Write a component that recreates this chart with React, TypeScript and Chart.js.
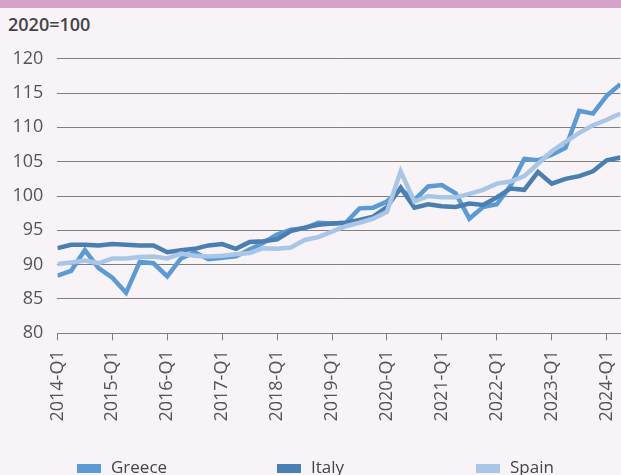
import React, { useEffect, useRef } from "react";
import { Chart, registerables } from "chart.js";

Chart.register(...registerables);

const CATEGORIES: string[] = [
  "2014-Q1", "2014-Q2", "2014-Q3", "2014-Q4",
  "2015-Q1", "2015-Q2", "2015-Q3", "2015-Q4",
  "2016-Q1", "2016-Q2", "2016-Q3", "2016-Q4",
  "2017-Q1", "2017-Q2", "2017-Q3", "2017-Q4",
  "2018-Q1", "2018-Q2", "2018-Q3", "2018-Q4",
  "2019-Q1", "2019-Q2", "2019-Q3", "2019-Q4",
  "2020-Q1", "2020-Q2", "2020-Q3", "2020-Q4",
  "2021-Q1", "2021-Q2", "2021-Q3", "2021-Q4",
  "2022-Q1", "2022-Q2", "2022-Q3", "2022-Q4",
  "2023-Q1", "2023-Q2", "2023-Q3", "2023-Q4",
  "2024-Q1", "2024-Q2",
];

const GREECE: number[] = [
  88.4, 89.1, 92.1, 89.5, 88.1, 85.9, 90.4, 90.2,
  88.3, 90.9, 91.8, 90.8, 91.0, 91.2, 92.2, 93.2,
  94.4, 95.1, 95.3, 96.1, 96.0, 96.1, 98.2, 98.3,
  99.2, 101.0, 99.4, 101.4, 101.6, 100.4, 96.7, 98.4,
  98.8, 101.5, 105.4, 105.2, 106.0, 107.0, 112.4, 112.0,
  114.6, 116.3,
];

const ITALY: number[] = [
  92.4, 92.9, 92.9, 92.8, 93.0, 92.9, 92.8, 92.8,
  91.8, 92.1, 92.3, 92.8, 93.0, 92.3, 93.3, 93.4,
  93.7, 94.9, 95.4, 95.8, 96.0, 96.1, 96.5, 97.0,
  98.4, 101.2, 98.3, 98.8, 98.5, 98.4, 98.9, 98.7,
  99.8, 101.1, 100.9, 103.5, 101.8, 102.5, 102.9, 103.6,
  105.2, 105.6,
];

const SPAIN: number[] = [
  90.1, 90.3, 90.6, 90.2, 90.9, 90.9, 91.1, 91.2,
  90.9, 91.6, 91.3, 91.2, 91.3, 91.5, 91.7, 92.4,
  92.3, 92.5, 93.6, 94.0, 94.8, 95.6, 96.1, 96.7,
  97.7, 103.6, 99.2, 100.0, 99.8, 99.8, 100.3, 100.9,
  101.8, 102.1, 102.9, 104.7, 106.5, 107.9, 109.2, 110.3,
  111.1, 112.0,
];

const SERIES_NAMES = ["Greece", "Italy", "Spain"];
const SERIES_COLORS = ["#5b9bd5", "#4a7fb2", "#aac6e6"];
const Y_TITLE = "2020=100";

const FONT = "'Open Sans', 'Noto Sans', sans-serif";
const TEXT = "#555555";
const GRID = "#7f7f7f";
const BG = "#f7f3f7";

export default function App() {
  const ref = useRef<HTMLCanvasElement | null>(null);

  useEffect(() => {
    const canvas = ref.current;
    if (!canvas) return;
    const seriesData = [GREECE, ITALY, SPAIN];
    const mk = (idx: number) => ({
      label: SERIES_NAMES[idx],
      data: seriesData[idx].map((v, i) => ({ x: i, y: v })),
      borderColor: SERIES_COLORS[idx],
      backgroundColor: SERIES_COLORS[idx],
      borderWidth: 4.5,
      pointRadius: 0,
      tension: 0,
      fill: false,
    });
    const chart = new Chart(canvas, {
      type: "line",
      data: {
        // first dataset is drawn on top
        datasets: [mk(2), mk(1), mk(0)],
      },
      options: {
        animation: false,
        responsive: false,
        devicePixelRatio: 1,
        layout: { padding: { top: 58.7, right: 0.6, left: 0, bottom: 0 } },
        plugins: { legend: { display: false }, tooltip: { enabled: false } },
        scales: {
          x: {
            type: "linear",
            min: 0,
            max: CATEGORIES.length - 1,
            afterFit: (s: any) => {
              s.height = 141.7;
              s.paddingLeft = 0;
              s.paddingRight = 0;
            },
            ticks: {
              stepSize: 4,
              autoSkip: false,
              includeBounds: false,
              minRotation: 90,
              maxRotation: 90,
              padding: 10,
              color: TEXT,
              font: { family: FONT, size: 18 },
              callback: (v: any) => CATEGORIES[Number(v)] ?? "",
            },
            grid: {
              drawOnChartArea: false,
              drawTicks: true,
              tickLength: 7,
              color: GRID,
              lineWidth: 1,
            },
            border: { display: true, color: GRID, width: 1 },
          },
          y: {
            min: 80,
            max: 120,
            afterFit: (s: any) => {
              s.width = 57.4;
              s.paddingTop = 0;
              s.paddingBottom = 0;
            },
            ticks: {
              stepSize: 5,
              padding: 14,
              color: TEXT,
              font: { family: FONT, size: 18 },
            },
            grid: { color: GRID, lineWidth: 1, drawTicks: false },
            border: { display: false },
          },
        },
      },
    } as any);
    return () => chart.destroy();
  }, []);

  const legendX = [77, 277, 476];

  return (
    <div
      style={{
        position: "absolute",
        left: 0,
        top: 0,
        width: 621,
        height: 475,
        overflow: "hidden",
        background: BG,
        fontFamily: FONT,
      }}
    >
      <div
        style={{
          position: "absolute",
          left: 0,
          top: 0,
          width: 621,
          height: 8,
          background: "#d5a2c8",
        }}
      />
      <div
        style={{
          position: "absolute",
          left: 8,
          top: 15,
          fontSize: 18,
          lineHeight: "18px",
          fontWeight: 600,
          color: "#444444",
          whiteSpace: "nowrap",
        }}
      >
        {Y_TITLE}
      </div>
      <canvas
        ref={ref}
        width={621}
        height={475}
        style={{ position: "absolute", left: 0, top: 0, display: "block" }}
      />
      {SERIES_NAMES.map((name, i) => (
        <div
          key={name}
          style={{
            position: "absolute",
            left: legendX[i],
            top: 458,
            height: 20,
            display: "flex",
            alignItems: "flex-start",
            whiteSpace: "nowrap",
          }}
        >
          <span
            style={{
              display: "inline-block",
              width: 24,
              height: 9,
              marginTop: 6,
              background: SERIES_COLORS[i],
            }}
          />
          <span
            style={{
              marginLeft: 10,
              fontSize: 17,
              lineHeight: "17px",
              color: "#444444",
            }}
          >
            {name}
          </span>
        </div>
      ))}
    </div>
  );
}
